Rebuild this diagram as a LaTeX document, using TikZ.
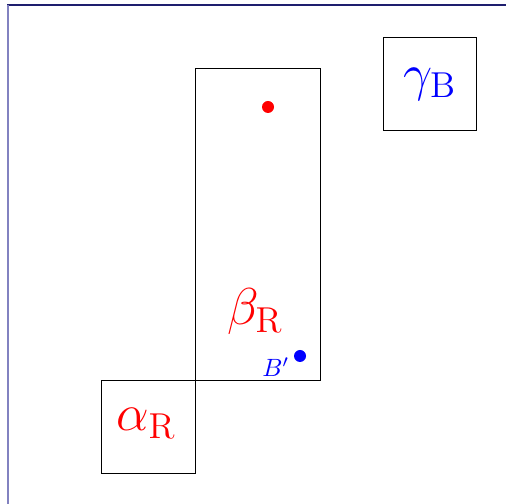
\documentclass[tikz,border=0pt]{standalone}
\usepackage{tikz}
\definecolor{framenavy}{RGB}{30,30,110}
\definecolor{framelav}{RGB}{130,130,192}
\tikzset{
  region/.style={draw=black, line width=0.4pt, inner sep=0pt, anchor=north west},
  lbl/.style={font=\huge},
  pt/.style={circle, inner sep=0pt, minimum size=4.8pt}
}
\begin{document}
\begin{tikzpicture}[x=0.4pt, y=-0.4pt]
  \useasboundingbox (0,0) rectangle (506,504);
  % frame edges
  \draw[framenavy, line width=0.7pt] (7,5) -- (506,5);
  \draw[framelav, line width=1pt] (8,5) -- (8,504);
  % regions
  \node[region, minimum width=37.6pt, minimum height=37.2pt] (A) at (101,380) {};
  \node[region, minimum width=50pt, minimum height=124.8pt] (B) at (195,68) {};
  \node[region, minimum width=37.2pt, minimum height=37.2pt] (G) at (383,37) {};
  % labels
  \node[lbl, text=red] (la) at (146,423) {$\alpha_{\mathrm{R}}$};
  \node[lbl, text=red] (lb) at (255,312) {$\beta_{\mathrm{R}}$};
  \node[lbl, text=blue] (lg) at (430,84) {$\gamma_{\mathrm{B}}$};
  % points
  \node[pt, fill=red] (p1) at (268,107) {};
  \node[pt, fill=blue] (p2) at (300,356) {};
  \node[text=blue, anchor=base east, inner sep=0pt] (lp) at (290,377) {$B'$};
\end{tikzpicture}
\end{document}
